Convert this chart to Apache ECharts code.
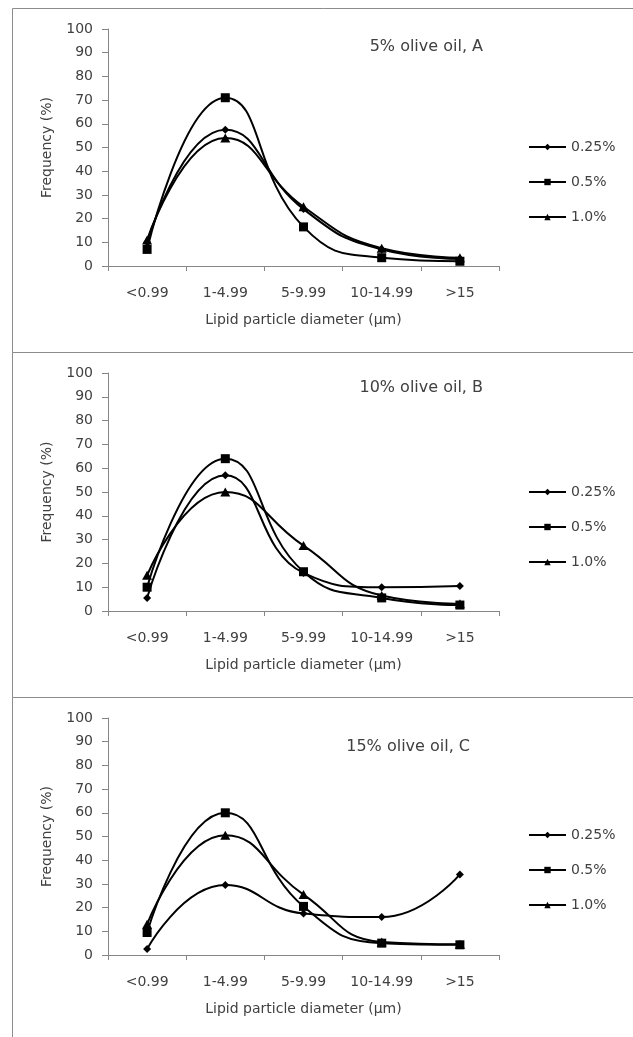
<!DOCTYPE html>
<html>
<head>
<meta charset="utf-8">
<script src="https://cdn.jsdelivr.net/npm/echarts@6/dist/echarts.min.js"></script>
<style>
  html, body { margin: 0; padding: 0; background: #fff; }
  #main { width: 633px; height: 1037px; }
</style>
</head>
<body>
<div id="main"></div>
<script>
// size classes on the x axis
const categories = ['<0.99', '1-4.99', '5-9.99', '10-14.99', '>15'];
const seriesNames = ['0.25%', '0.5%', '1.0%'];
const yTicks = [0, 100, 10]; // min, max, step

// A: 5% olive oil
const a025 = [10, 57.5, 24, 7, 3];
const a05 = [7, 71, 16.5, 3.5, 2];
const a10 = [11, 54, 25, 7.5, 3.5];
// B: 10% olive oil
const b025 = [5.5, 57, 16, 10, 10.5];
const b05 = [10, 64, 16.5, 5.5, 2.5];
const b10 = [15, 50, 27.5, 6.5, 3];
// C: 15% olive oil
const c025 = [2.5, 29.5, 17.5, 16, 34];
const c05 = [9.5, 60, 20.5, 5, 4.3];
const c10 = [13, 50.5, 25.5, 5.5, 4.5];

const panelTitles = ['5% olive oil, A', '10% olive oil, B', '15% olive oil, C'];
const panelData = [[a025, a05, a10], [b025, b05, b10], [c025, c05, c10]];

const font = 'DejaVu Sans';
const textColor = '#404040';
const axisColor = '#868686';

// layout of each panel (px)
const panels = [
  { box: 8, boxH: 344, top: 29, h: 237, titleX: 483, titleY: 47, legTop: 140 },
  { box: 352, boxH: 345, top: 373, h: 238, titleX: 483, titleY: 388, legTop: 485 },
  { box: 697, boxH: 400, top: 718, h: 237, titleX: 470, titleY: 747, legTop: 828 }
];
const markers = [
  { symbol: 'diamond', size: 8 },
  { symbol: 'rect', size: 9 },
  { symbol: 'triangle', size: [10, 9] }
];

let myChart = echarts.init(document.getElementById('main'), null, { renderer: 'canvas' });

const grid = [], xAxis = [], yAxis = [], legend = [], series = [], graphic = [];

panels.forEach((p, i) => {
  graphic.push({
    type: 'rect', silent: true,
    shape: { x: 12.5, y: p.box + 0.5, width: 640, height: p.boxH },
    style: { fill: null, stroke: '#8c8c8c', lineWidth: 1 }
  });
  graphic.push({
    type: 'text', silent: true, x: p.titleX, y: p.titleY,
    style: {
      text: panelTitles[i], fill: textColor, font: '16px "' + font + '"',
      textAlign: 'right', textVerticalAlign: 'middle'
    }
  });

  grid.push({ left: 108, top: p.top, width: 391, height: p.h });

  xAxis.push({
    type: 'category', gridIndex: i, data: categories, boundaryGap: true,
    name: 'Lipid particle diameter (µm)', nameLocation: 'middle', nameGap: 47,
    nameTextStyle: { color: textColor, fontFamily: font, fontSize: 14 },
    axisLine: { lineStyle: { color: axisColor, width: 1 } },
    axisTick: { show: true, length: 5, lineStyle: { color: axisColor } },
    axisLabel: { color: textColor, fontFamily: font, fontSize: 14, margin: 20, interval: 0 },
    splitLine: { show: false }
  });

  yAxis.push({
    type: 'value', gridIndex: i, min: yTicks[0], max: yTicks[1], interval: yTicks[2],
    name: 'Frequency (%)', nameLocation: 'middle', nameGap: 54, nameRotate: 90,
    nameTextStyle: { color: textColor, fontFamily: font, fontSize: 14 },
    axisLine: { show: true, lineStyle: { color: axisColor, width: 1 } },
    axisTick: { show: true, length: 6, lineStyle: { color: axisColor } },
    axisLabel: { color: textColor, fontFamily: font, fontSize: 14, margin: 15 },
    splitLine: { show: false }
  });

  legend.push({
    data: seriesNames, orient: 'vertical', left: 528, top: p.legTop, padding: 0,
    itemWidth: 37, itemHeight: 8, itemGap: 21, selectedMode: false,
    textStyle: { color: textColor, fontFamily: font, fontSize: 14 }
  });

  panelData[i].forEach((vals, k) => {
    series.push({
      name: seriesNames[k], type: 'line', xAxisIndex: i, yAxisIndex: i,
      data: vals, smooth: 0.5,
      symbol: markers[k].symbol, symbolSize: markers[k].size, showSymbol: true,
      lineStyle: { color: '#000', width: 2 },
      itemStyle: { color: '#000', borderWidth: 0 },
      emphasis: { disabled: true }
    });
  });
});

myChart.setOption({
  animation: false,
  backgroundColor: '#fff',
  grid, xAxis, yAxis, legend, series, graphic
});

window.addEventListener('resize', () => {
  myChart.resize();
});
</script>
</body>
</html>
